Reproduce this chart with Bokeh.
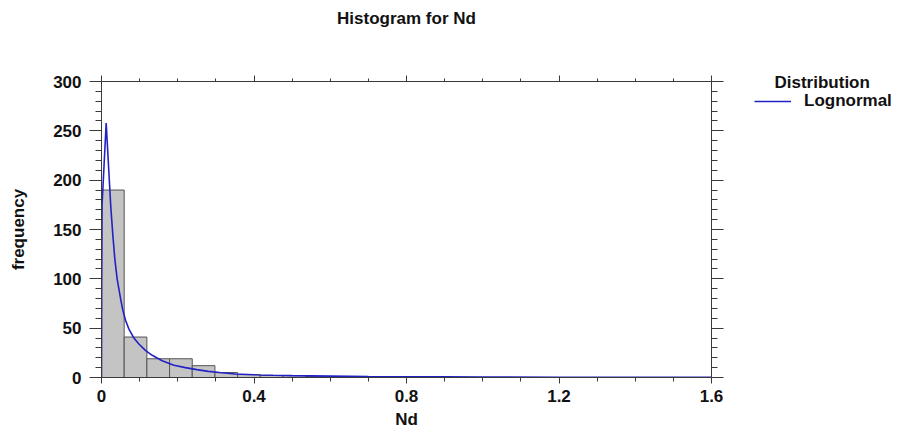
from bokeh.plotting import figure
from bokeh.layouts import row, column
from bokeh.core.properties import value
from bokeh.models import (Range1d, LinearAxis, FixedTicker, Legend,
                          LegendItem, ColumnDataSource, Title)
from bokeh.embed import file_html
from bokeh.resources import INLINE

# Histogram of Nd: bin width and counts per bin, starting at 0
bin_width = 0.0595
bin_counts = [190, 41, 19, 19, 12, 5, 3, 2, 2, 1, 1, 1, 1, 1]

# Fitted lognormal density, scaled to frequency
curve_x = [0.0, 0.0005, 0.0015, 0.0123, 0.0245, 0.030, 0.035, 0.041, 0.0505,
           0.056, 0.063, 0.072, 0.085, 0.098, 0.115, 0.133, 0.159, 0.19, 0.22,
           0.25, 0.28, 0.31, 0.35, 0.40, 0.45, 0.50, 0.60, 0.70, 0.80, 0.90,
           1.00, 1.20, 1.40, 1.60]
curve_y = [0.0, 90, 175, 258, 172, 143, 120, 100, 79,
           68, 58, 49, 40, 34, 27.5, 22.5, 17, 12.5, 10,
           8, 6.2, 5, 3.6, 2.8, 2.3, 1.9, 1.4, 1.0, 0.75, 0.6,
           0.45, 0.3, 0.2, 0.15]

x_ticks = [0, 0.4, 0.8, 1.2, 1.6]
x_tick_labels = ["0", "0.4", "0.8", "1.2", "1.6"]
x_minor = [i / 10 for i in range(17)]
y_ticks = [0, 50, 100, 150, 200, 250, 300]
y_tick_labels = ["0", "50", "100", "150", "200", "250", "300"]
y_minor = list(range(0, 301, 10))

FONT = "Liberation Sans"
TEXT_COLOR = "#111111"
AXIS_COLOR = "#3a3a3a"
CURVE_COLOR = "#2222c4"

MAIN_W = 740
SIDE_W = 907 - MAIN_W
TITLE_H = 40
H = 434 - TITLE_H
LEFT, RIGHT = 101, 29
TOP, BOTTOM = 81 - TITLE_H, 57

# Title strip above the chart, sharing the chart's horizontal frame
t = figure(width=MAIN_W, height=TITLE_H, x_range=Range1d(0, 1.6),
           y_range=Range1d(0, TITLE_H), x_axis_type=None, y_axis_type=None,
           output_backend="svg", toolbar_location=None, title=None,
           min_border_left=LEFT, min_border_right=RIGHT,
           min_border_top=0, min_border_bottom=0)
t.outline_line_color = None
t.background_fill_color = "white"
t.border_fill_color = "white"
t.text(x=[0.8], y=[TITLE_H - 18], text=["Histogram for Nd"], text_align="center",
       text_baseline="alphabetic", text_font=value(FONT), text_font_style="bold",
       text_font_size="17px", text_color=TEXT_COLOR)

p = figure(width=MAIN_W, height=H, x_range=Range1d(0, 1.6), y_range=Range1d(0, 300),
           x_axis_type=None, y_axis_type=None, output_backend="svg",
           toolbar_location=None, title=None,
           min_border_left=LEFT, min_border_right=RIGHT,
           min_border_top=TOP, min_border_bottom=BOTTOM)
p.outline_line_color = None
p.background_fill_color = "white"
p.border_fill_color = "white"


def make_axis(ticks, minor, labels, tick_out, minor_out, show_labels):
    ax = LinearAxis(ticker=FixedTicker(ticks=ticks, minor_ticks=minor))
    ax.axis_line_color = AXIS_COLOR
    ax.major_tick_line_color = AXIS_COLOR
    ax.minor_tick_line_color = AXIS_COLOR
    ax.major_tick_in = 0
    ax.major_tick_out = tick_out
    ax.minor_tick_in = 0
    ax.minor_tick_out = minor_out
    if show_labels:
        ax.major_label_overrides = dict(zip(ticks, labels))
    else:
        ax.major_label_overrides = {t: "" for t in ticks}
        ax.major_label_standoff = 0
    ax.major_label_text_font = FONT
    ax.major_label_text_font_style = "bold"
    ax.major_label_text_font_size = "17px"
    ax.major_label_text_color = TEXT_COLOR
    return ax


def style_axis_label(ax, text, standoff):
    ax.axis_label = text
    ax.axis_label_standoff = standoff
    ax.axis_label_text_font = FONT
    ax.axis_label_text_font_style = "bold"
    ax.axis_label_text_font_size = "17px"
    ax.axis_label_text_color = TEXT_COLOR


xb = make_axis(x_ticks, x_minor, x_tick_labels, 6, 4, True)
xb.major_label_standoff = 6
style_axis_label(xb, "Nd", 5)
p.add_layout(xb, "below")

xt = make_axis(x_ticks, x_minor, x_tick_labels, 6, 3, False)
p.add_layout(xt, "above")

yl = make_axis(y_ticks, y_minor, y_tick_labels, 12, 6, True)
yl.major_label_standoff = 8
style_axis_label(yl, "frequency", 22)
p.add_layout(yl, "left")

yr = make_axis(y_ticks, y_minor, y_tick_labels, 12, 6, False)
p.add_layout(yr, "right")

# Bars
lefts = [i * bin_width for i in range(len(bin_counts))]
rights = [(i + 1) * bin_width for i in range(len(bin_counts))]
bars = ColumnDataSource(dict(left=lefts, right=rights, top=bin_counts,
                             bottom=[0] * len(bin_counts)))
p.quad(left="left", right="right", top="top", bottom="bottom", source=bars,
       fill_color="#c4c4c4", line_color="#555555", line_width=1)

# Fitted curve
p.line(curve_x, curve_y, line_color=CURVE_COLOR, line_width=1.6)

# Side panel holding the distribution legend
q = figure(width=SIDE_W, height=H, x_range=Range1d(0, 1), y_range=Range1d(0, 1),
           x_axis_type=None, y_axis_type=None, output_backend="svg",
           toolbar_location=None, min_border_left=0, min_border_right=0,
           min_border_top=TOP, min_border_bottom=BOTTOM)
q.outline_line_color = None
q.background_fill_color = "white"
q.border_fill_color = "white"
q.title = Title(text="Distribution", align="left", offset=34, standoff=-20,
                vertical_align="bottom",
                text_font=FONT, text_font_style="bold", text_font_size="17px",
                text_color=TEXT_COLOR)

# legend key line (no points of its own inside the panel)
key = q.line(x=[float("nan"), float("nan")], y=[float("nan"), float("nan")],
             line_color=CURVE_COLOR, line_width=1.6)
frame_h = H - TOP - BOTTOM
legend = Legend(items=[LegendItem(label="Lognormal", renderers=[key])],
                location=(14, frame_h - (110.5 - 81)), padding=0,
                margin=0, spacing=0,
                glyph_width=37, glyph_height=20, label_height=20,
                label_standoff=13, border_line_color=None,
                background_fill_alpha=0,
                label_text_font=FONT, label_text_font_style="bold",
                label_text_font_size="17px", label_text_color=TEXT_COLOR)
q.add_layout(legend)

layout = column(t, row(p, q, spacing=0), spacing=0)
open("out.html", "w").write(file_html(layout, INLINE))
